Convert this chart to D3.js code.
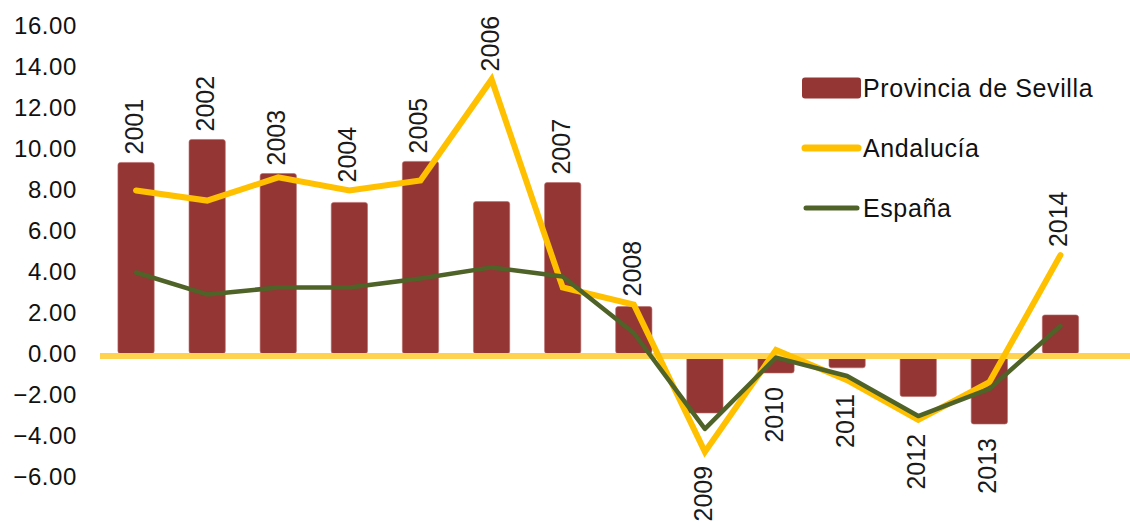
<!DOCTYPE html>
<html><head><meta charset="utf-8">
<script src="https://cdn.jsdelivr.net/npm/d3@7"></script>
<style>
html,body{margin:0;padding:0;background:#fff;}
svg{display:block;font-family:"Liberation Sans",Arial,Helvetica,sans-serif;}
</style></head>
<body><svg id="chart" width="1130" height="522"></svg>
<script>
const years = ["2001","2002","2003","2004","2005","2006","2007","2008","2009","2010","2011","2012","2013","2014"];
const sevilla   = [9.32, 10.44, 8.78, 7.37, 9.37, 7.41, 8.34, 2.29, -2.90, -0.95, -0.70, -2.10, -3.44, 1.88];
const andalucia = [7.95, 7.46, 8.59, 7.95, 8.44, 13.37, 3.22, 2.39, -4.80, 0.17, -1.30, -3.24, -1.40, 4.80];
const espana    = [3.95, 2.88, 3.22, 3.22, 3.66, 4.20, 3.76, 1.00, -3.68, -0.20, -1.10, -3.05, -1.73, 1.34];
const yTicks = [-6, -4, -2, 0, 2, 4, 6, 8, 10, 12, 14, 16];
const seriesNames = ["Provincia de Sevilla", "Andalucía", "España"];

const svg = d3.select("#chart");
const x = d3.scaleBand().domain(years).range([100.5, 1096]).paddingInner(0.49).paddingOuter(0.245);
const y = d3.scaleLinear().domain([-6, 16]).range([476.5, 25.5]);

const colBar = "#943634", colAnd = "#FFC000", colEsp = "#4F6228", colZero = "#FFD24F";

// y axis labels
const yAxis = d3.axisLeft(y).tickValues(yTicks).tickFormat(d3.format(".2f")).tickSize(0).tickPadding(0);
const gy = svg.append("g").attr("transform", "translate(77,0)").call(yAxis);
gy.select(".domain").remove();
gy.selectAll("text").attr("font-size", 24).attr("fill", "#111").attr("font-family", "Liberation Sans, Arial, sans-serif").attr("letter-spacing", "0.6px");

// bars
const cx = d => x(d) + x.bandwidth() / 2;
svg.append("g").selectAll("rect").data(years).join("rect")
  .attr("x", d => x(d))
  .attr("width", x.bandwidth())
  .attr("y", (d, i) => Math.min(y(0), y(sevilla[i])))
  .attr("height", (d, i) => Math.abs(y(sevilla[i]) - y(0)))
  .attr("rx", 2.5)
  .attr("fill", colBar)
  .attr("stroke", "#b86a68").attr("stroke-width", 0.6);

// zero line
svg.append("line").attr("x1", 100).attr("x2", 1130)
  .attr("y1", y(0) + 2.5).attr("y2", y(0) + 2.5)
  .attr("stroke", colZero).attr("stroke-width", 6);

// lines
const lineGen = arr => d3.line().x((d, i) => cx(years[i])).y(d => y(d))(arr);
svg.append("path").attr("d", lineGen(andalucia)).attr("fill", "none")
  .attr("stroke", colAnd).attr("stroke-width", 6).attr("stroke-linejoin", "miter").attr("stroke-linecap", "round");
svg.append("path").attr("d", lineGen(espana)).attr("fill", "none")
  .attr("stroke", colEsp).attr("stroke-width", 4.5).attr("stroke-linejoin", "round").attr("stroke-linecap", "round");

// year labels
svg.append("g").selectAll("text").data(years).join("text")
  .each(function(d, i) {
    const vals = [sevilla[i], andalucia[i], espana[i]];
    const pos = sevilla[i] >= 0;
    const t = d3.select(this);
    if (pos) {
      const yy = y(d3.max(vals)) - 8;
      t.attr("transform", `translate(${cx(d) + 7},${yy}) rotate(-90)`).attr("text-anchor", "start");
    } else {
      const yy = y(d3.min(vals)) + 14;
      t.attr("transform", `translate(${cx(d) + 7},${yy}) rotate(-90)`).attr("text-anchor", "end");
    }
  })
  .attr("font-size", 25).attr("fill", "#1a1a1a")
  .text(d => d);

// legend
const lg = svg.append("g");
const rows = [88, 148, 208];
lg.append("rect").attr("x", 802).attr("y", rows[0] - 10.5).attr("width", 59).attr("height", 21).attr("rx", 3).attr("fill", colBar);
lg.append("line").attr("x1", 805).attr("x2", 858).attr("y1", rows[1]).attr("y2", rows[1])
  .attr("stroke", colAnd).attr("stroke-width", 7).attr("stroke-linecap", "round");
lg.append("line").attr("x1", 806).attr("x2", 857).attr("y1", rows[2]).attr("y2", rows[2])
  .attr("stroke", colEsp).attr("stroke-width", 5).attr("stroke-linecap", "round");
lg.selectAll("text").data(seriesNames).join("text")
  .attr("x", 863).attr("y", (d, i) => rows[i]).attr("dy", "0.36em")
  .attr("font-size", 25).attr("letter-spacing", "0.6px").attr("fill", "#111")
  .text(d => d);
</script></body></html>
